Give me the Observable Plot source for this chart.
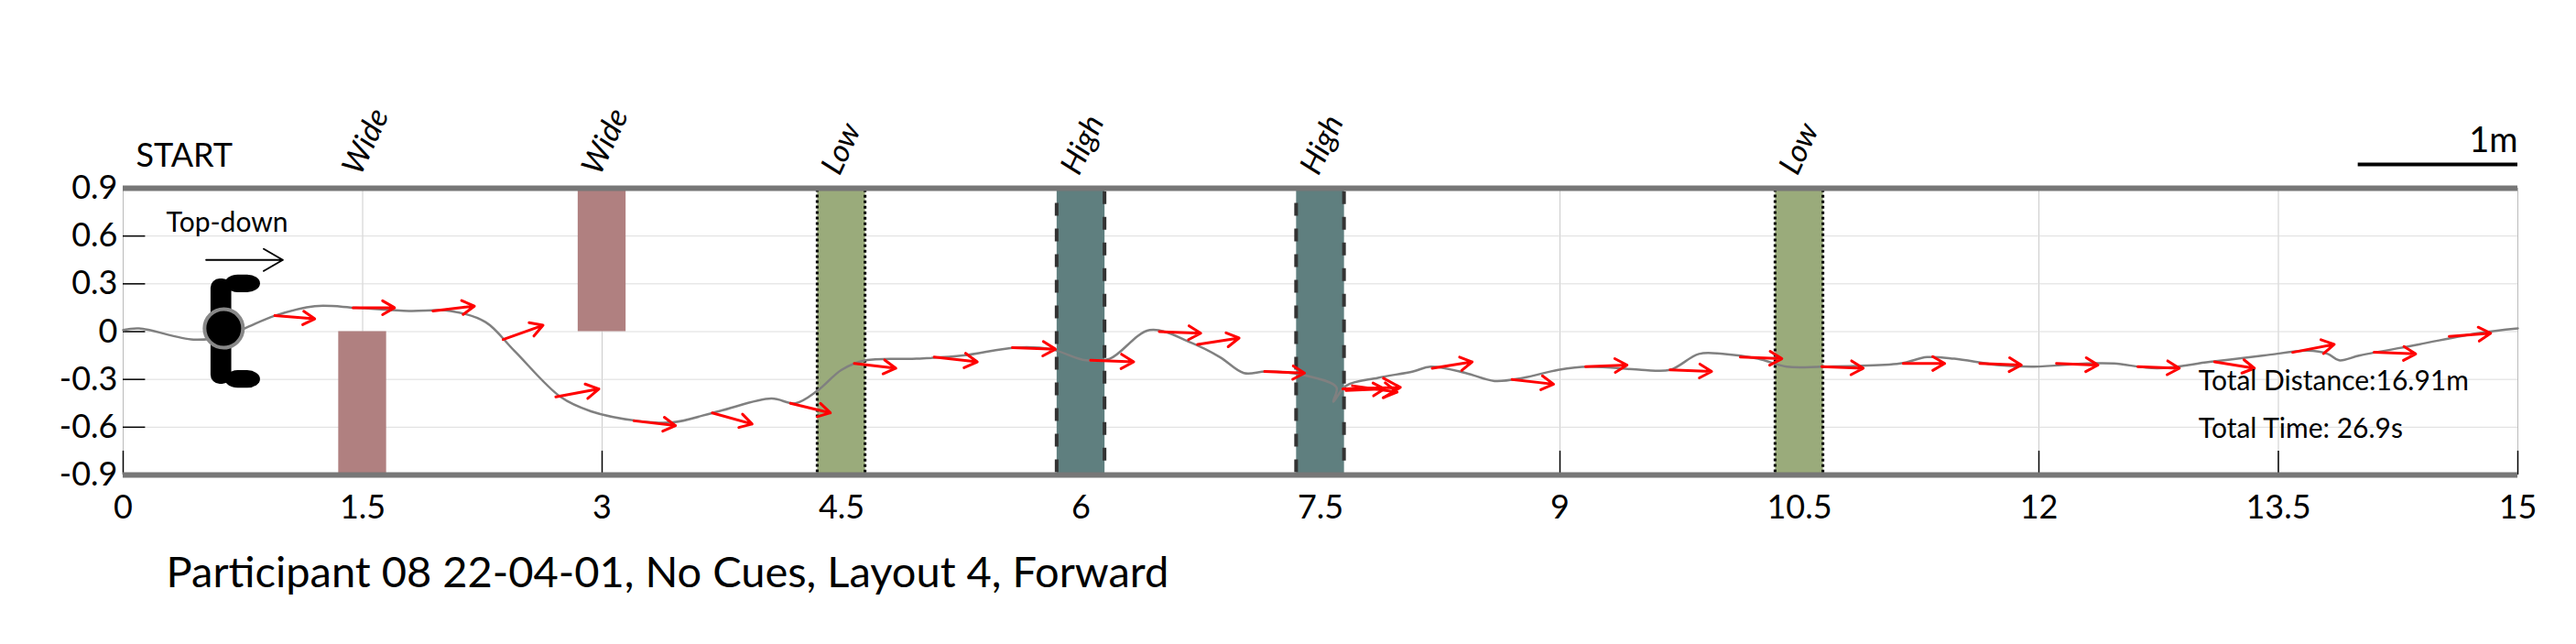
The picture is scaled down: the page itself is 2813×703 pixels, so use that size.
<!DOCTYPE html>
<html><head><meta charset="utf-8">
<script src="https://cdn.jsdelivr.net/npm/d3@7"></script>
<script src="https://cdn.jsdelivr.net/npm/@observablehq/plot@0.6"></script>
<style>body{margin:0;background:#fff}</style>
</head><body><div id="chart"></div>
<script>
// trajectory (x along corridor, y lateral), metres
const pathX = [0,0.1,0.44,0.63,0.76,0.95,1.2,1.46,1.79,2.05,2.27,2.45,2.74,2.93,3.22,3.44,3.73,4.06,4.21,4.35,4.5,4.65,4.97,5.26,5.59,5.81,6.03,6.18,6.43,6.69,6.87,7.02,7.16,7.38,7.6,7.58,7.66,7.86,8.08,8.19,8.41,8.59,8.77,8.99,9.18,9.51,9.69,9.87,10.02,10.24,10.42,10.64,11.13,11.3,11.47,11.74,11.97,12.3,12.47,12.74,13.07,13.41,13.68,13.81,13.88,14.01,14.38,14.75,15.0]
const pathY = [0.01,0.02,-0.05,-0.03,0.02,0.1,0.16,0.15,0.13,0.13,0.06,-0.12,-0.41,-0.5,-0.56,-0.57,-0.5,-0.42,-0.45,-0.37,-0.24,-0.18,-0.17,-0.15,-0.1,-0.11,-0.18,-0.17,0.01,-0.07,-0.16,-0.26,-0.25,-0.27,-0.35,-0.44,-0.34,-0.29,-0.25,-0.22,-0.26,-0.31,-0.29,-0.24,-0.22,-0.24,-0.24,-0.14,-0.14,-0.17,-0.22,-0.22,-0.2,-0.16,-0.17,-0.21,-0.22,-0.2,-0.2,-0.23,-0.19,-0.15,-0.12,-0.14,-0.18,-0.15,-0.08,-0.01,0.02]

// heading arrows
const arrX1 = [0.95,1.44,1.94,2.38,2.71,3.2,3.69,4.18,4.58,5.08,5.57,6.06,6.49,6.73,7.15,7.64,7.7,7.66,8.2,8.7,9.16,9.69,10.13,10.64,11.15,11.63,12.11,12.62,13.1,13.59,14.1,14.57]
const arrY1 = [0.1,0.15,0.13,-0.05,-0.41,-0.56,-0.51,-0.45,-0.2,-0.16,-0.1,-0.18,0,-0.08,-0.25,-0.36,-0.34,-0.37,-0.23,-0.3,-0.22,-0.24,-0.16,-0.22,-0.2,-0.2,-0.2,-0.22,-0.19,-0.13,-0.13,-0.03]
const arrX2 = [1.2,1.7,2.2,2.63,2.98,3.46,3.94,4.43,4.84,5.35,5.84,6.33,6.75,6.99,7.4,8.0,7.98,7.9,8.45,8.96,9.42,9.95,10.39,10.9,11.41,11.89,12.37,12.88,13.35,13.85,14.36,14.83]
const arrY2 = [0.08,0.15,0.16,0.04,-0.36,-0.59,-0.58,-0.51,-0.23,-0.19,-0.11,-0.19,-0.01,-0.04,-0.26,-0.35,-0.38,-0.36,-0.19,-0.33,-0.21,-0.25,-0.17,-0.23,-0.2,-0.21,-0.21,-0.23,-0.23,-0.08,-0.14,-0.01]

// obstacles
const obsLabel = ["Wide","Wide","Low","High","High","Low"]
const obsX1 = [1.35,2.85,4.35,5.85,7.35,10.35]
const obsX2 = [1.65,3.15,4.65,6.15,7.65,10.65]
const obsY1 = [-0.9,0,-0.9,-0.9,-0.9,-0.9]
const obsY2 = [0,0.9,0.9,0.9,0.9,0.9]

const xTicks = [0,1.5,3,4.5,6,7.5,9,10.5,12,13.5,15]
const yTicks = [-0.9,-0.6,-0.3,0,0.3,0.6,0.9]

const path = pathX.map((x, i) => ({x, y: pathY[i]}))
const arrows = arrX1.map((x, i) => ({x1: x, y1: arrY1[i], x2: arrX2[i], y2: arrY2[i]}))
const obs = obsLabel.map((t, i) => ({t, x1: obsX1[i], x2: obsX2[i], y1: obsY1[i], y2: obsY2[i], c: (obsX1[i] + obsX2[i]) / 2}))
const fillOf = {Wide: "#b08080", Low: "#9aab7b", High: "#5f7f7f"}
const font = "Lato, 'Open Sans', sans-serif"

const chart = Plot.plot({
  width: 2813, height: 703,
  marginLeft: 134, marginRight: 64, marginTop: 205, marginBottom: 185,
  x: {domain: [0, 15]},
  y: {domain: [-0.9, 0.9]},
  style: {fontFamily: font, background: "#fff"},
  marks: [
    Plot.gridX(xTicks, {stroke: "#ccc", strokeOpacity: 1}),
    Plot.gridY(yTicks, {stroke: "#ddd", strokeOpacity: 1}),
    Plot.ruleX([0, 15], {stroke: "#bbb"}),
    Plot.ruleX(xTicks, {y1: -0.9, y2: -0.75, stroke: "#000", strokeWidth: 1.5}),
    Plot.ruleY(yTicks.slice(1, -1), {x1: 0, x2: 0.14, stroke: "#000", strokeWidth: 1.5}),
    Plot.rect(obs, {x1: "x1", x2: "x2", y1: "y1", y2: "y2", fill: d => fillOf[d.t]}),
    Plot.rect(obs.filter(d => d.t === "Low"), {x1: "x1", x2: "x2", y1: "y1", y2: "y2", fill: "none", stroke: "#000", strokeWidth: 3, strokeDasharray: "3,3"}),
    Plot.rect(obs.filter(d => d.t === "High"), {x1: "x1", x2: "x2", y1: "y1", y2: "y2", fill: "none", stroke: "#333", strokeWidth: 4, strokeDasharray: "14,14"}),
    Plot.ruleY([0.9, -0.9], {stroke: "#777", strokeWidth: 6}),
    Plot.text(obs, {x: d => d.c - 0.07, y: 1.0, text: "t", rotate: -65, textAnchor: "start", fontSize: 34, fontStyle: "italic"}),
    Plot.line(path, {x: "x", y: "y", stroke: "#808080", strokeWidth: 2.5, curve: "catmull-rom"}),
    Plot.arrow(arrows, {x1: "x1", y1: "y1", x2: "x2", y2: "y2", stroke: "red", strokeWidth: 3, headLength: 14, bend: 0}),
    // robot icon
    Plot.rect([0.3, -0.3], {x1: 0.64, x2: 0.86, y1: d => d - 0.055, y2: d => d + 0.055, fill: "#000", rx: 14}),
    Plot.rect([0], {x1: 0.55, x2: 0.68, y1: -0.33, y2: 0.33, fill: "#000", rx: 10}),
    Plot.dot([[0.63, 0.02]], {x: d => d[0], y: d => d[1], r: 21, fill: "#000", stroke: "#888", strokeWidth: 4}),
    Plot.text(["Top-down"], {x: 0.27, y: 0.68, textAnchor: "start", fontSize: 30}),
    Plot.arrow([0], {x1: 0.52, y1: 0.45, x2: 1.0, y2: 0.45, stroke: "#000", strokeWidth: 2, headLength: 18}),
    Plot.text(["START"], {x: 0.08, y: 1.1, textAnchor: "start", fontSize: 36}),
    Plot.ruleY([1.05], {x1: 14.0, x2: 15.0, stroke: "#000", strokeWidth: 4}),
    Plot.text(["1m"], {x: 15, y: 1.2, textAnchor: "end", fontSize: 38}),
    Plot.text(["Total Distance:16.91m"], {x: 13.0, y: -0.31, textAnchor: "start", fontSize: 30}),
    Plot.text(["Total Time: 26.9s"], {x: 13.0, y: -0.61, textAnchor: "start", fontSize: 30}),
    Plot.axisX(xTicks, {tickSize: 0, tickPadding: 22, fontSize: 36, tickFormat: d => String(d)}),
    Plot.axisY(yTicks, {tickSize: 0, tickPadding: 6, fontSize: 36, tickFormat: d => String(d)}),
    Plot.text(["Participant 08 22-04-01, No Cues, Layout 4, Forward"], {x: 0.27, y: -1.52, textAnchor: "start", fontSize: 47})
  ]
})
document.getElementById("chart").append(chart)
</script>
</body></html>
